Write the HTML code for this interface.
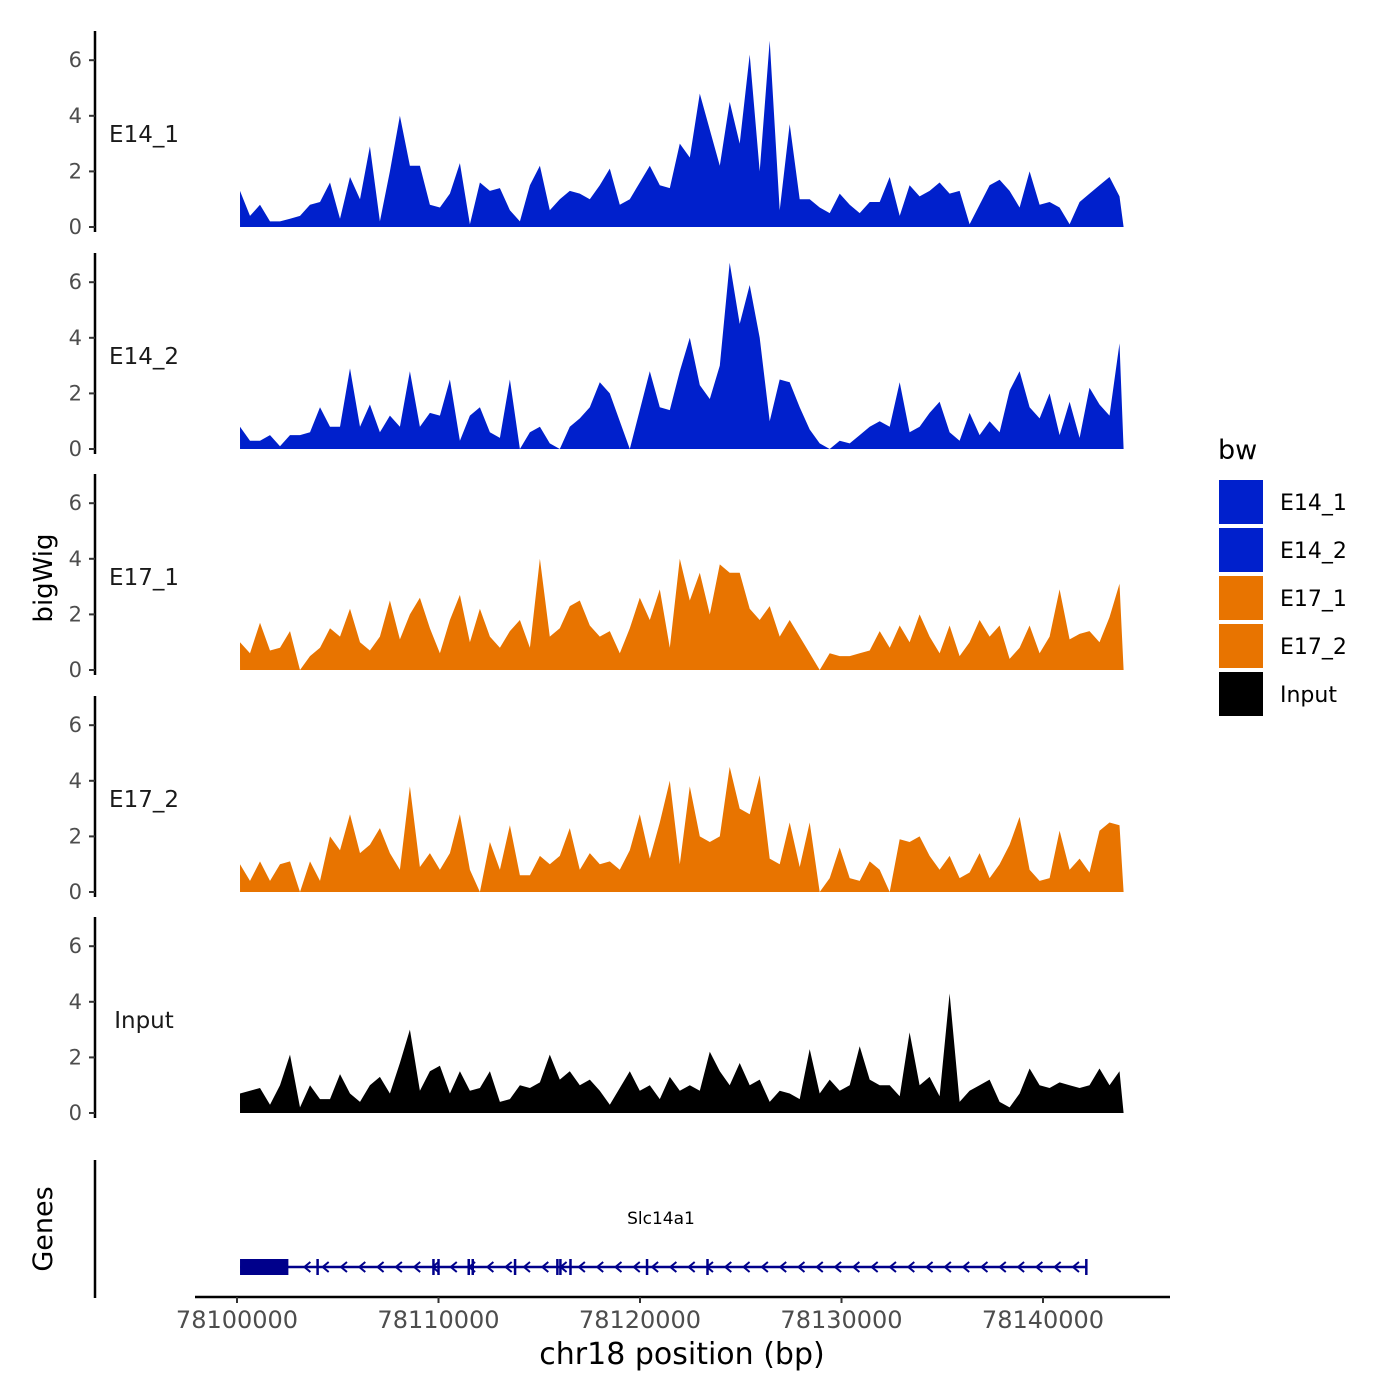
<!DOCTYPE html>
<html><head><meta charset="utf-8"><style>
html,body{margin:0;padding:0;background:#fff;}
svg{display:block;font-family:"DejaVu Sans","Liberation Sans",sans-serif;}
</style></head><body>
<svg id="chart" width="1400" height="1400" viewBox="0 0 1400 1400"></svg>
<script>
const trackNames = ["E14_1","E14_2","E17_1","E17_2","Input"];
const trackColors = ["#0020CC","#0020CC","#E87400","#E87400","#000000"];
const startBp = 78100150;
const stepBp = 496;
const e14_1 = [1.3,0.4,0.8,0.2,0.2,0.3,0.4,0.8,0.9,1.6,0.3,1.8,1.0,2.9,0.2,2.0,4.0,2.2,2.2,0.8,0.7,1.2,2.3,0.1,1.6,1.3,1.4,0.6,0.2,1.5,2.2,0.6,1.0,1.3,1.2,1.0,1.5,2.1,0.8,1.0,1.6,2.2,1.5,1.4,3.0,2.5,4.8,3.5,2.2,4.5,3.0,6.2,2.0,6.7,0.6,3.7,1.0,1.0,0.7,0.5,1.2,0.8,0.5,0.9,0.9,1.8,0.4,1.5,1.1,1.3,1.6,1.2,1.3,0.1,0.8,1.5,1.7,1.3,0.7,2.0,0.8,0.9,0.7,0.1,0.9,1.2,1.5,1.8,1.1];
const e14_2 = [0.8,0.3,0.3,0.5,0.1,0.5,0.5,0.6,1.5,0.8,0.8,2.9,0.8,1.6,0.6,1.2,0.8,2.8,0.8,1.3,1.2,2.5,0.3,1.2,1.5,0.6,0.4,2.5,0,0.6,0.8,0.2,0,0.8,1.1,1.5,2.4,2.0,1.0,0,1.4,2.8,1.5,1.4,2.8,4.0,2.3,1.8,3.0,6.7,4.5,5.9,4.0,1.0,2.5,2.4,1.5,0.7,0.2,0,0.3,0.2,0.5,0.8,1.0,0.8,2.4,0.6,0.8,1.3,1.7,0.6,0.3,1.3,0.5,1.0,0.6,2.1,2.8,1.5,1.1,2.0,0.5,1.7,0.4,2.2,1.6,1.2,3.8];
const e17_1 = [1.0,0.6,1.7,0.7,0.8,1.4,0,0.5,0.8,1.5,1.2,2.2,1.0,0.7,1.2,2.5,1.1,2.0,2.6,1.5,0.6,1.8,2.7,1.0,2.2,1.2,0.8,1.4,1.8,0.8,4.0,1.2,1.5,2.3,2.5,1.6,1.2,1.4,0.6,1.5,2.6,1.8,2.9,0.8,4.0,2.5,3.5,2.0,3.8,3.5,3.5,2.2,1.8,2.3,1.2,1.8,1.2,0.6,0,0.6,0.5,0.5,0.6,0.7,1.4,0.8,1.6,1.0,2.0,1.2,0.6,1.6,0.5,1.0,1.8,1.2,1.6,0.4,0.8,1.6,0.6,1.2,2.9,1.1,1.3,1.4,1.0,1.9,3.1];
const e17_2 = [1.0,0.4,1.1,0.4,1.0,1.1,0,1.1,0.4,2.0,1.5,2.8,1.4,1.7,2.3,1.4,0.8,3.8,0.9,1.4,0.8,1.4,2.8,0.8,0,1.8,0.8,2.4,0.6,0.6,1.3,1.0,1.3,2.3,0.8,1.4,1.0,1.1,0.8,1.5,2.8,1.2,2.5,4.0,1.0,3.8,2.0,1.8,2.0,4.5,3.0,2.8,4.2,1.2,1.0,2.5,0.9,2.5,0,0.5,1.6,0.5,0.4,1.1,0.8,0,1.9,1.8,2.0,1.3,0.8,1.3,0.5,0.7,1.4,0.5,1.0,1.7,2.7,0.8,0.4,0.5,2.2,0.8,1.2,0.7,2.2,2.5,2.4];
const input = [0.7,0.8,0.9,0.3,1.0,2.1,0.2,1.0,0.5,0.5,1.4,0.7,0.4,1.0,1.3,0.7,1.8,3.0,0.8,1.5,1.7,0.7,1.5,0.8,0.9,1.5,0.4,0.5,1.0,0.9,1.1,2.1,1.2,1.5,1.0,1.2,0.8,0.3,0.9,1.5,0.8,1.0,0.5,1.3,0.8,1.0,0.8,2.2,1.5,1.0,1.8,1.0,1.2,0.4,0.8,0.7,0.5,2.3,0.7,1.2,0.8,1.0,2.4,1.2,1.0,1.0,0.6,2.9,1.0,1.3,0.6,4.3,0.4,0.8,1.0,1.2,0.4,0.2,0.7,1.6,1.0,0.9,1.1,1.0,0.9,1.0,1.6,1.0,1.5];
const trackValues = [e14_1,e14_2,e17_1,e17_2,input];
const yTicks = [0,2,4,6];
const xTicks = [78100000,78110000,78120000,78130000,78140000];
const geneStart = 78100150, geneEnd = 78142150, cdsEnd = 78102550;
const exonMarks = [78104000,78109750,78110000,78111500,78111700,78113800,78115900,78116050,78116550,78120350,78123350];

const NS="http://www.w3.org/2000/svg";
const svg=document.getElementById('chart');
function el(tag,attrs,parent){const e=document.createElementNS(NS,tag);for(const k in attrs)e.setAttribute(k,attrs[k]);(parent||svg).appendChild(e);return e;}
function xs(bp){return 237+(bp-78100000)*0.02015;}
const panelZero=[227,449,670,892,1113];
const unitPx=27.8;

trackNames.forEach((name,ti)=>{
  const g=el('g',{});
  
  
  const y0=panelZero[ti];
  const ys=v=>y0-v*unitPx;
  const vals=trackValues[ti];
  let d='M'+xs(startBp)+','+y0;
  vals.forEach((v,i)=>{d+=' L'+xs(startBp+i*stepBp).toFixed(1)+','+ys(v).toFixed(1);});
  d+=' L'+xs(startBp+(vals.length-1)*stepBp+200).toFixed(1)+','+y0+' Z';
  const p=el('path',{d:d,fill:trackColors[ti]},g);
  
  
  const ax=el('line',{x1:95,x2:95,y1:y0-196,y2:y0+5,stroke:'#000','stroke-width':2.5},g);
  
  
  yTicks.forEach(t=>{
    el('line',{x1:89,x2:95,y1:ys(t),y2:ys(t),stroke:'#333','stroke-width':2},g);
    const tx=el('text',{x:82,y:ys(t)+7,'text-anchor':'end','font-size':21,fill:'#4d4d4d'},g);
    tx.textContent=t;
    
    
  });
  const lb=el('text',{x:144,y:y0-85,'text-anchor':'middle','font-size':23,fill:'#1a1a1a'},g);
  lb.textContent=name;
  
  
});

const yt=el('text',{x:52,y:578,'text-anchor':'middle','font-size':26,transform:'rotate(-90 52 578)'});
yt.textContent='bigWig';



const gg=el('g',{});


el('line',{x1:95,x2:95,y1:1160,y2:1298,stroke:'#000','stroke-width':2.5},gg);
const gt=el('text',{x:52,y:1229,'text-anchor':'middle','font-size':27,transform:'rotate(-90 52 1229)'},gg);
gt.textContent='Genes';


const gy=1267, gc='#00008B';
el('line',{x1:xs(geneStart),x2:xs(geneEnd),y1:gy,y2:gy,stroke:gc,'stroke-width':2.5},gg);
el('rect',{x:xs(geneStart),y:gy-8,width:xs(cdsEnd)-xs(geneStart),height:16,fill:gc},gg);
for(let x=xs(cdsEnd)+18;x<xs(geneEnd)-6;x+=18.3){
  el('polyline',{points:(x+4)+','+(gy-5)+' '+(x-2)+','+gy+' '+(x+4)+','+(gy+5),fill:'none',stroke:gc,'stroke-width':2},gg);
}
exonMarks.concat([geneEnd]).forEach(b=>{el('line',{x1:xs(b),x2:xs(b),y1:gy-8,y2:gy+8,stroke:gc,'stroke-width':2.5},gg);});
const gn=el('text',{x:661,y:1224,'text-anchor':'middle','font-size':17,fill:'#000'},gg);
gn.textContent='Slc14a1';



const xa=el('line',{x1:195,x2:1170,y1:1297,y2:1297,stroke:'#000','stroke-width':2.5});


xTicks.forEach(t=>{
  el('line',{x1:xs(t),x2:xs(t),y1:1297,y2:1303,stroke:'#333','stroke-width':2});
  const tx=el('text',{x:xs(t),y:1328,'text-anchor':'middle','font-size':24,fill:'#4d4d4d'});
  tx.textContent=t;
  
  
});
const xt=el('text',{x:682,y:1364,'text-anchor':'middle','font-size':30});
xt.textContent='chr18 position (bp)';



const lg=el('g',{});


const lt=el('text',{x:1218,y:459,'font-size':27},lg);
lt.textContent='bw';


trackNames.forEach((n,i)=>{
  const y=480+i*48;
  const r=el('rect',{x:1219,y:y,width:44,height:44,fill:trackColors[i]},lg);
  
  
  const t=el('text',{x:1280,y:y+30,'font-size':22},lg);
  t.textContent=n;
  
  
});
</script>
</body></html>
